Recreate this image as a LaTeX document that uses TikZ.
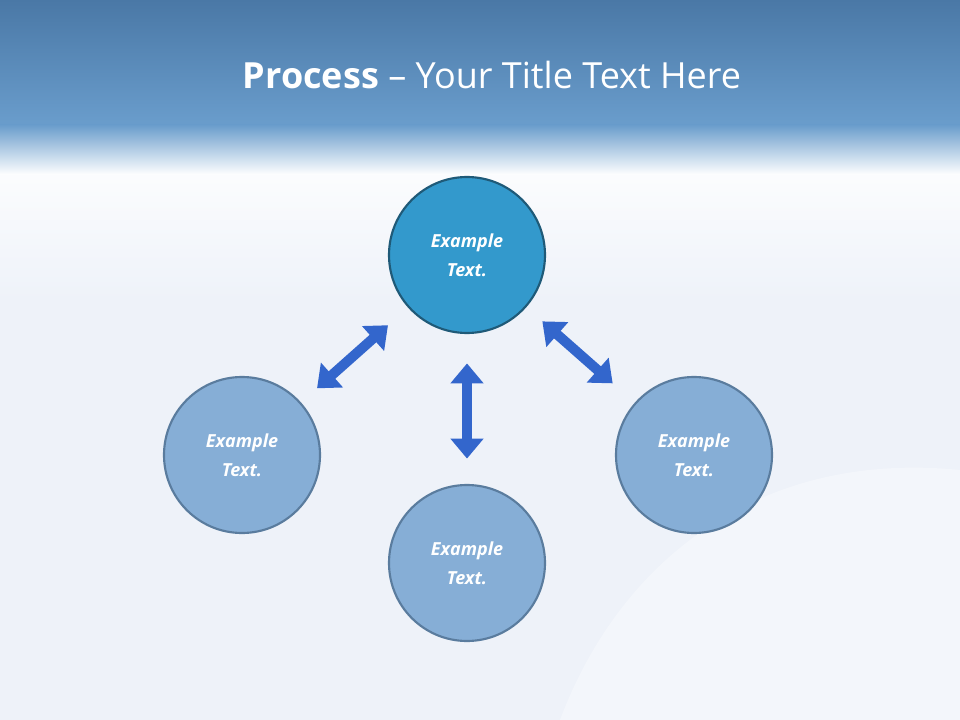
\documentclass[tikz,border=0pt]{standalone}
\usepackage{fontspec}
\setmainfont{Open Sans}
\usetikzlibrary{arrows.meta}
\definecolor{hdtop}{HTML}{4A78A6}
\definecolor{hdbot}{HTML}{6A9DCC}
\definecolor{bgc}{HTML}{EEF2F9}
\definecolor{topfill}{HTML}{3399CC}
\definecolor{topline}{HTML}{1F5A78}
\definecolor{cfill}{HTML}{86AED6}
\definecolor{cline}{HTML}{5A7C9E}
\definecolor{arr}{HTML}{3366CC}
\tikzset{
  circ/.style={circle,minimum size=117pt,line width=1.6pt,draw=cline,fill=cfill,text=white,
    font=\bfseries\itshape\fontsize{13.5}{22}\selectfont,align=center,inner sep=0pt},
  topcirc/.style={circ,draw=topline,fill=topfill},
  dbl/.style={draw=arr,line width=7.5pt,{Triangle[width=24pt,length=15pt]}-{Triangle[width=24pt,length=15pt]}}
}
\begin{document}
\begin{tikzpicture}[x=0.75pt,y=-0.75pt]
\useasboundingbox (0,0) rectangle (960,720);
\fill[bgc] (0,0) rectangle (960,720);
\shade[top color=white,bottom color=bgc] (0,140) rectangle (960,300);
\shade[top color=hdtop,bottom color=hdbot] (0,0) rectangle (960,125);
\shade[top color=hdbot,bottom color=white] (0,125) rectangle (960,175);
\fill[white,opacity=0.35] (560,720) .. controls (620,560) and (760,450) .. (960,470) -- (960,720) -- cycle;
\node[text=white,font=\fontsize{27}{30}\selectfont] (title) at (492,75) {\textbf{Process} – Your Title Text Here};
\node[topcirc] (t) at (467,255) {Example\\Text.};
\node[circ] (l) at (242,455) {Example\\Text.};
\node[circ] (b) at (467,563) {Example\\Text.};
\node[circ] (r) at (694,455) {Example\\Text.};
\draw[dbl,shorten <=20pt,shorten >=16pt] (t) -- (l);
\draw[dbl,shorten <=22pt,shorten >=19pt] (t) -- (b);
\draw[dbl,shorten <=16pt,shorten >=22pt] (t) -- (r);
\end{tikzpicture}
\end{document}
